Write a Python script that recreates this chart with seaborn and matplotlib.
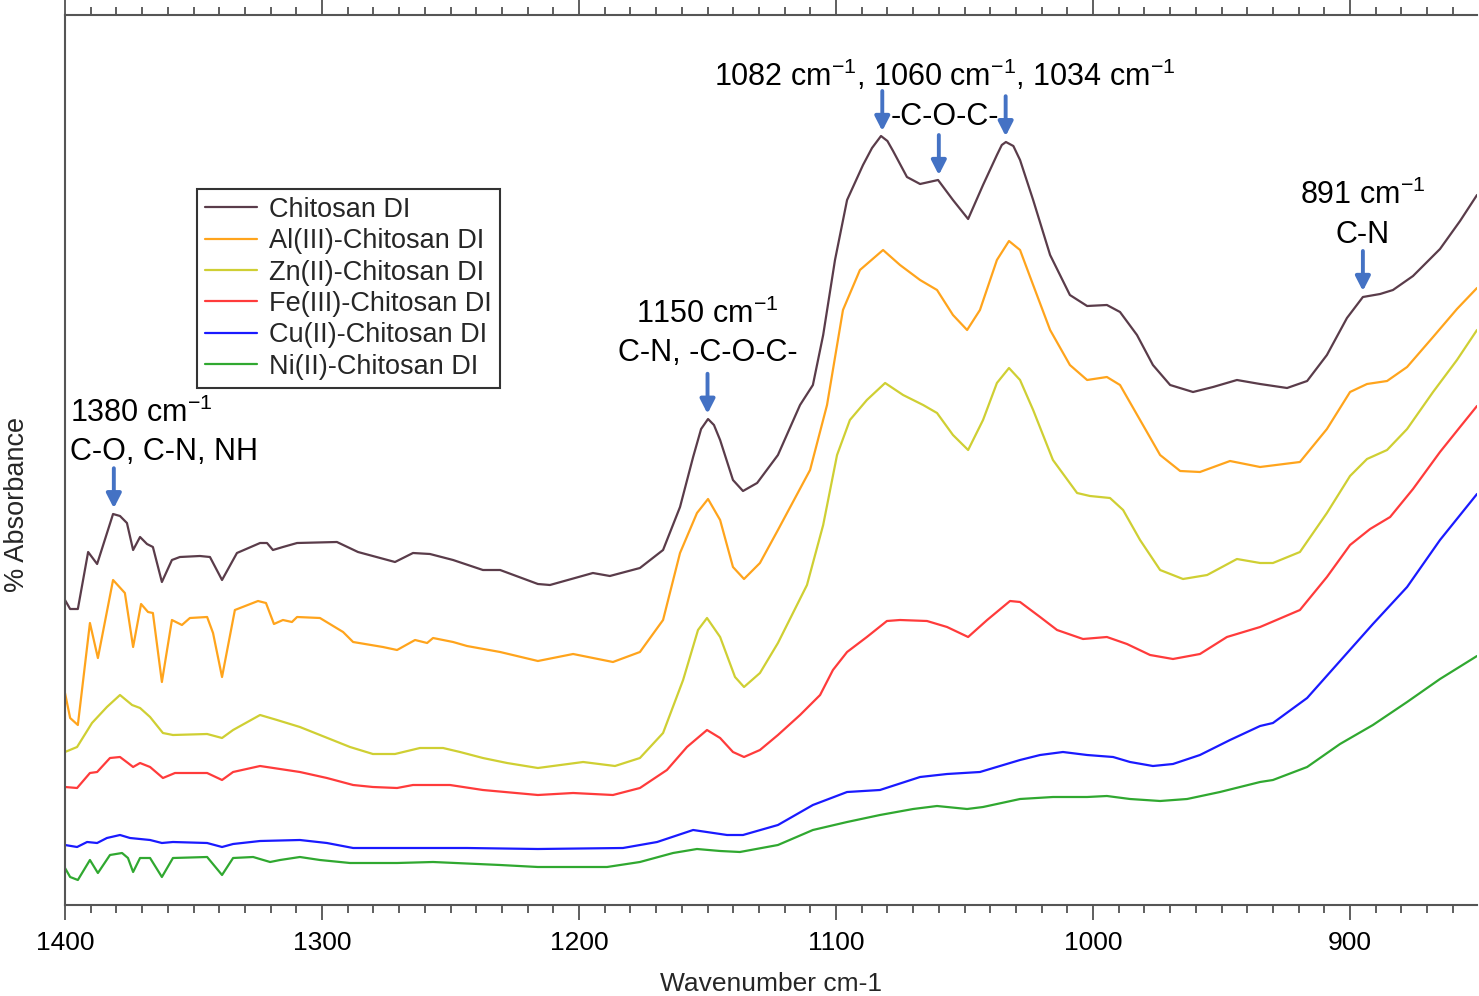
import numpy as np
import pandas as pd
import seaborn as sns
import matplotlib.pyplot as plt
from matplotlib.ticker import MultipleLocator

# spectra (stacked, arbitrary absorbance units)
chitosan_wn = [1400, 1398, 1395, 1391, 1387.5, 1381.3, 1378.6, 1375.9, 1373.5, 1370.8,
               1368.1, 1365.8, 1362.3, 1358.4, 1355.3, 1347.5, 1343.6, 1338.9, 1333.1, 1324.1,
               1321.4, 1319.1, 1315.2, 1309.7, 1294.2, 1286, 1271.6, 1264.6, 1258, 1249,
               1237.4, 1230.7, 1216, 1211.3, 1194.6, 1188, 1176.3, 1167.3, 1160.7, 1155.6,
               1152.5, 1149.8, 1147.5, 1145.1, 1140.1, 1136.2, 1130.7, 1122.6, 1114, 1109,
               1105, 1100.4, 1095.7, 1089.5, 1086, 1082.5, 1080, 1077.8, 1072.4, 1067.3,
               1060.3, 1054.5, 1048.6, 1042.8, 1037.4, 1035.5, 1033.9, 1031, 1028.4, 1023.3,
               1016.7, 1009, 1002.3, 994.6, 989.5, 982.9, 976.7, 970, 961.1, 953.3,
               944, 935, 924.5, 916.7, 909, 901.2, 895, 888.3, 883.3, 875.5,
               865, 857.2, 850.6]
chitosan_abs = [30.5, 29.6, 29.6, 35.3, 34.1, 39.1, 38.9, 38.2, 35.5, 36.8,
                36.1, 35.8, 32.3, 34.5, 34.8, 34.9, 34.8, 32.5, 35.2, 36.2,
                36.2, 35.5, 35.8, 36.2, 36.3, 35.3, 34.3, 35.2, 35.1, 34.5,
                33.5, 33.5, 32.1, 32.0, 33.2, 32.9, 33.7, 35.5, 39.8, 44.8,
                47.6, 48.6, 48.0, 46.5, 42.5, 41.4, 42.2, 45.0, 50.0, 52.0,
                57.0, 64.5, 70.5, 74.0, 75.7, 76.9, 76.4, 75.4, 72.8, 72.1,
                72.5, 70.5, 68.6, 72.0, 75.0, 76.0, 76.3, 75.9, 74.5, 70.5,
                65.0, 61.0, 59.9, 60.0, 59.3, 57.0, 54.0, 52.0, 51.3, 51.8,
                52.5, 52.1, 51.7, 52.4, 55.0, 58.7, 60.8, 61.1, 61.5, 62.9,
                65.6, 68.4, 71.0]

al_wn = [1400, 1398, 1395, 1390.3, 1387.2, 1381.3, 1376.7, 1373.5, 1370.4, 1367.7,
         1365.8, 1362.3, 1358.4, 1354.5, 1351.4, 1344.7, 1342.4, 1338.9, 1333.9, 1324.9,
         1321.8, 1318.7, 1315.2, 1311.7, 1309.7, 1300.8, 1291.8, 1287.9, 1276.3, 1270.8,
         1263.8, 1259.1, 1256.8, 1249, 1243.6, 1230.7, 1216, 1202.3, 1186.8, 1176.3,
         1167.3, 1160.7, 1154.1, 1149.8, 1145.1, 1140.1, 1135.8, 1129.6, 1122.6, 1110.1,
         1103.5, 1097.3, 1090.7, 1081.7, 1075.1, 1067.3, 1060.7, 1054.5, 1049, 1044,
         1037.4, 1032.7, 1028.4, 1023.3, 1016.7, 1009, 1002.3, 994.6, 989.5, 981.7,
         973.9, 966.1, 958.4, 946.7, 935, 919.5, 909, 900, 893.4, 885.6,
         877.8, 867.7, 858.4, 850.6]
al_abs = [21.2, 18.7, 18.0, 28.2, 24.7, 32.5, 31.2, 25.8, 30.1, 29.3,
          29.2, 22.3, 28.5, 28.0, 28.7, 28.8, 27.2, 22.8, 29.5, 30.4,
          30.2, 28.1, 28.5, 28.3, 28.8, 28.7, 27.3, 26.3, 25.8, 25.5,
          26.5, 26.2, 26.7, 26.3, 25.9, 25.3, 24.4, 25.1, 24.3, 25.3,
          28.5, 35.2, 39.2, 40.6, 38.5, 33.8, 32.6, 34.2, 37.5, 43.5,
          50.0, 59.5, 63.5, 65.5, 64.0, 62.5, 61.5, 59.0, 57.5, 59.5,
          64.5, 66.4, 65.5, 62.0, 57.5, 54.0, 52.5, 52.8, 52.0, 48.5,
          45.0, 43.4, 43.3, 44.4, 43.8, 44.3, 47.6, 51.3, 52.1, 52.4,
          53.8, 56.8, 59.6, 61.7]

zn_wn = [1400, 1395.3, 1389.5, 1383.7, 1378.6, 1373.9, 1370.8, 1366.9, 1361.9, 1358,
         1344.7, 1338.9, 1334.6, 1324.1, 1317.5, 1308.6, 1300.8, 1289.1, 1280.2, 1271.6,
         1261.9, 1252.9, 1246.3, 1237.4, 1228, 1216, 1198.4, 1186, 1176.3, 1167.3,
         1159.5, 1153.7, 1150.2, 1145.1, 1139.3, 1135.8, 1129.6, 1122.6, 1111.3, 1105,
         1099.6, 1094.6, 1088, 1080.9, 1073.9, 1066.1, 1060.7, 1054.5, 1048.6, 1042.8,
         1037.4, 1032.7, 1028.4, 1023.3, 1015.6, 1006.2, 1001.2, 993.4, 988.3, 981.7,
         973.9, 965, 955.6, 944, 935, 930, 919.5, 909, 900, 893.4,
         885.6, 877.8, 867.7, 858.4, 850.6]
zn_abs = [15.3, 15.8, 18.2, 19.8, 21.0, 20.0, 19.7, 18.8, 17.2, 17.0,
          17.1, 16.7, 17.5, 19.0, 18.5, 17.8, 17.0, 15.8, 15.1, 15.1,
          15.7, 15.7, 15.3, 14.7, 14.2, 13.7, 14.3, 13.9, 14.7, 17.2,
          22.5, 27.5, 28.7, 26.8, 22.8, 21.8, 23.2, 26.2, 32.0, 38.0,
          45.0, 48.5, 50.5, 52.2, 51.0, 50.0, 49.2, 47.0, 45.5, 48.5,
          52.2, 53.7, 52.5, 49.5, 44.5, 41.2, 40.9, 40.7, 39.5, 36.5,
          33.5, 32.6, 33.0, 34.6, 34.2, 34.2, 35.3, 39.2, 42.9, 44.6,
          45.5, 47.6, 51.3, 54.5, 57.5]

fe_wn = [1400, 1395.3, 1390.3, 1387.5, 1382.5, 1378.6, 1375.5, 1373.5, 1370.8, 1366.9,
         1361.9, 1357.2, 1344.7, 1338.9, 1334.6, 1324.1, 1308.6, 1298.1, 1287.9, 1280.2,
         1270.8, 1264.6, 1250.2, 1237.4, 1216, 1202.3, 1186.8, 1176.3, 1165.8, 1158,
         1150.2, 1145.1, 1140.1, 1135.8, 1129.6, 1122.6, 1114, 1106.2, 1101.2, 1095.7,
         1088, 1080.2, 1075.1, 1064.6, 1056.8, 1048.6, 1041.2, 1032.3, 1028.4, 1020.6,
         1014, 1003.9, 994.6, 986.8, 977.8, 968.9, 958.4, 947.9, 935, 919.5,
         909, 900, 892.2, 884.4, 875.5, 865, 857.2, 850.6]
fe_abs = [11.8, 11.7, 13.2, 13.3, 14.7, 14.8, 14.2, 13.8, 14.2, 13.8,
          12.7, 13.2, 13.2, 12.5, 13.3, 13.9, 13.3, 12.7, 12.0, 11.8,
          11.7, 12.0, 12.0, 11.5, 11.0, 11.2, 11.0, 11.7, 13.5, 15.8,
          17.5, 16.7, 15.3, 14.8, 15.5, 17.0, 19.0, 21.0, 23.5, 25.3,
          26.8, 28.4, 28.5, 28.4, 27.8, 26.8, 28.5, 30.4, 30.3, 28.8,
          27.5, 26.6, 26.8, 26.1, 25.0, 24.6, 25.1, 26.8, 27.8, 29.5,
          32.8, 36.0, 37.6, 38.8, 41.6, 45.3, 47.8, 49.9]

cu_wn = [1400, 1395.3, 1391.4, 1387.5, 1383.7, 1378.6, 1374.7, 1370.8, 1366.9, 1362.3,
         1358, 1344.7, 1338.9, 1334.6, 1324.1, 1308.6, 1298.1, 1287.9, 1259.1, 1243.6,
         1216, 1182.9, 1169.6, 1155.6, 1142.4, 1136.2, 1122.6, 1109, 1095.7, 1082.9,
         1067.3, 1056.8, 1044, 1028.4, 1020.6, 1011.7, 1002.3, 992.2, 985.6, 976.7,
         968.9, 958.4, 946.7, 935, 930, 916.7, 903.9, 891.1, 877.8, 865,
         850.6]
cu_abs = [6.0, 5.8, 6.3, 6.2, 6.7, 7.0, 6.7, 6.6, 6.5, 6.2,
          6.3, 6.2, 5.8, 6.1, 6.4, 6.5, 6.2, 5.7, 5.7, 5.7,
          5.6, 5.7, 6.3, 7.5, 7.0, 7.0, 8.0, 10.0, 11.3, 11.5,
          12.8, 13.1, 13.3, 14.5, 15.0, 15.3, 15.0, 14.8, 14.3, 13.9,
          14.1, 15.0, 16.5, 17.9, 18.2, 20.7, 24.4, 28.1, 31.8, 36.5,
          41.1]

ni_wn = [1400, 1398, 1395, 1390.3, 1387.2, 1382.5, 1377.8, 1375.5, 1373.5, 1370.8,
         1366.9, 1362.3, 1358, 1344.7, 1338.9, 1334.6, 1326.8, 1320.2, 1316.3, 1308.6,
         1300.8, 1289.1, 1270.8, 1256.8, 1230.7, 1216, 1189.1, 1176.3, 1163.4, 1154.1,
         1145.1, 1137.4, 1122.6, 1109, 1095.7, 1082.9, 1070, 1060.7, 1049, 1042.8,
         1028.4, 1015.6, 1002.3, 994.6, 985.6, 973.9, 963.4, 950.6, 935, 930,
         916.7, 903.9, 891.1, 877.8, 865, 850.6]
ni_abs = [3.7, 2.8, 2.5, 4.5, 3.2, 5.0, 5.2, 4.7, 3.3, 4.7,
          4.7, 2.8, 4.7, 4.8, 3.0, 4.7, 4.8, 4.3, 4.5, 4.8,
          4.5, 4.2, 4.2, 4.3, 4.0, 3.8, 3.8, 4.3, 5.2, 5.6,
          5.4, 5.3, 6.0, 7.5, 8.3, 9.0, 9.6, 9.9, 9.6, 9.8,
          10.6, 10.8, 10.8, 10.9, 10.6, 10.4, 10.6, 11.3, 12.3, 12.5,
          13.8, 16.1, 18.0, 20.3, 22.6, 24.9]

samples = ['Chitosan DI', 'Al(III)-Chitosan DI', 'Zn(II)-Chitosan DI',
           'Fe(III)-Chitosan DI', 'Cu(II)-Chitosan DI', 'Ni(II)-Chitosan DI']
colors = ['#5a3c4a', '#ffa41c', '#cfcf33', '#ff3b3b', '#1a1aff', '#30a830']

# peak annotations
arrow_wn = [1381, 1150, 1082, 1060, 1034, 895]
notes = [
    (1398, 48.3, r'1380 cm$^{-1}$', 'left'),
    (1398, 44.5, 'C-O, C-N, NH', 'left'),
    (1150, 58.2, r'1150 cm$^{-1}$', 'center'),
    (1150, 54.4, 'C-N, -C-O-C-', 'center'),
    (1057.6, 81.9, r'1082 cm$^{-1}$, 1060 cm$^{-1}$, 1034 cm$^{-1}$', 'center'),
    (1057.6, 78.0, '-C-O-C-', 'center'),
    (895, 70.1, r'891 cm$^{-1}$', 'center'),
    (895, 66.2, 'C-N', 'center'),
]

sns.set_theme(style='white')
plt.rcParams['font.family'] = ['Liberation Sans', 'DejaVu Sans']
plt.rcParams['mathtext.fontset'] = 'custom'
plt.rcParams['mathtext.rm'] = 'Liberation Sans'
plt.rcParams['mathtext.it'] = 'Liberation Sans:italic'
plt.rcParams['mathtext.bf'] = 'Liberation Sans:bold'

spectra = [(chitosan_wn, chitosan_abs), (al_wn, al_abs), (zn_wn, zn_abs),
           (fe_wn, fe_abs), (cu_wn, cu_abs), (ni_wn, ni_abs)]
frames = []
for name, (wn, ab) in zip(samples, spectra):
    frames.append(pd.DataFrame({'wavenumber': wn, 'absorbance': ab, 'sample': name}))
df = pd.concat(frames, ignore_index=True)

fig = plt.figure(figsize=(14.79, 9.96), dpi=100)
ax = fig.add_axes([65 / 1479, 91 / 996, 1412 / 1479, 890 / 996])
sns.lineplot(data=df, x='wavenumber', y='absorbance', hue='sample', hue_order=samples,
             palette=dict(zip(samples, colors)), estimator=None, sort=False,
             linewidth=1.6, legend=False, ax=ax)
for line in ax.lines:
    line.set_solid_joinstyle('round')
ax.set_xlim(1400, 850.6)
ax.set_ylim(0, 89)

ax.xaxis.set_major_locator(MultipleLocator(100))
ax.xaxis.set_minor_locator(MultipleLocator(10))
ax.tick_params(axis='x', which='both', bottom=True, top=True, direction='out',
               color='#444444', width=1.2, labelcolor='black')
ax.tick_params(axis='x', which='major', length=11, labelsize=19, pad=7.5)
ax.tick_params(axis='x', which='minor', length=5.5)
ax.tick_params(axis='y', left=False, labelleft=False)
ax.spines['right'].set_visible(False)
for s in ['left', 'bottom', 'top']:
    ax.spines[s].set_color('#555555')
    ax.spines[s].set_linewidth(1.5)

ax.set_xlabel('Wavenumber cm-1', fontsize=19)
ax.xaxis.set_label_coords(0.5, -0.0755)
ax.set_ylabel('% Absorbance', fontsize=19.5)
ax.yaxis.set_label_coords(-0.025, 0.45)

leg = ax.legend(ax.lines[:len(samples)], samples, loc='upper left',
                bbox_to_anchor=(0.0935, 0.805), borderaxespad=0, fontsize=19.5,
                frameon=True, fancybox=False, edgecolor='#333333', framealpha=1,
                handlelength=1.9, handletextpad=0.45, labelspacing=0.2, borderpad=0.3)
leg.get_frame().set_linewidth(1.5)

# arrows point at the chitosan trace
xs = np.array(chitosan_wn[::-1])
ys = np.array(chitosan_abs[::-1])
for w in arrow_wn:
    tip = np.interp(w, xs, ys) + 0.6
    ax.annotate('', xy=(w, tip), xytext=(w, tip + 4.0),
                arrowprops=dict(arrowstyle='-|>,head_width=0.22,head_length=0.43',
                                color='#4472c4', lw=2.8, shrinkA=0, shrinkB=0,
                                mutation_scale=20))

for x, y, txt, ha in notes:
    ax.text(x, y, txt, ha=ha, va='baseline', fontsize=22, color='black')

fig.savefig('out.png', dpi=100)
